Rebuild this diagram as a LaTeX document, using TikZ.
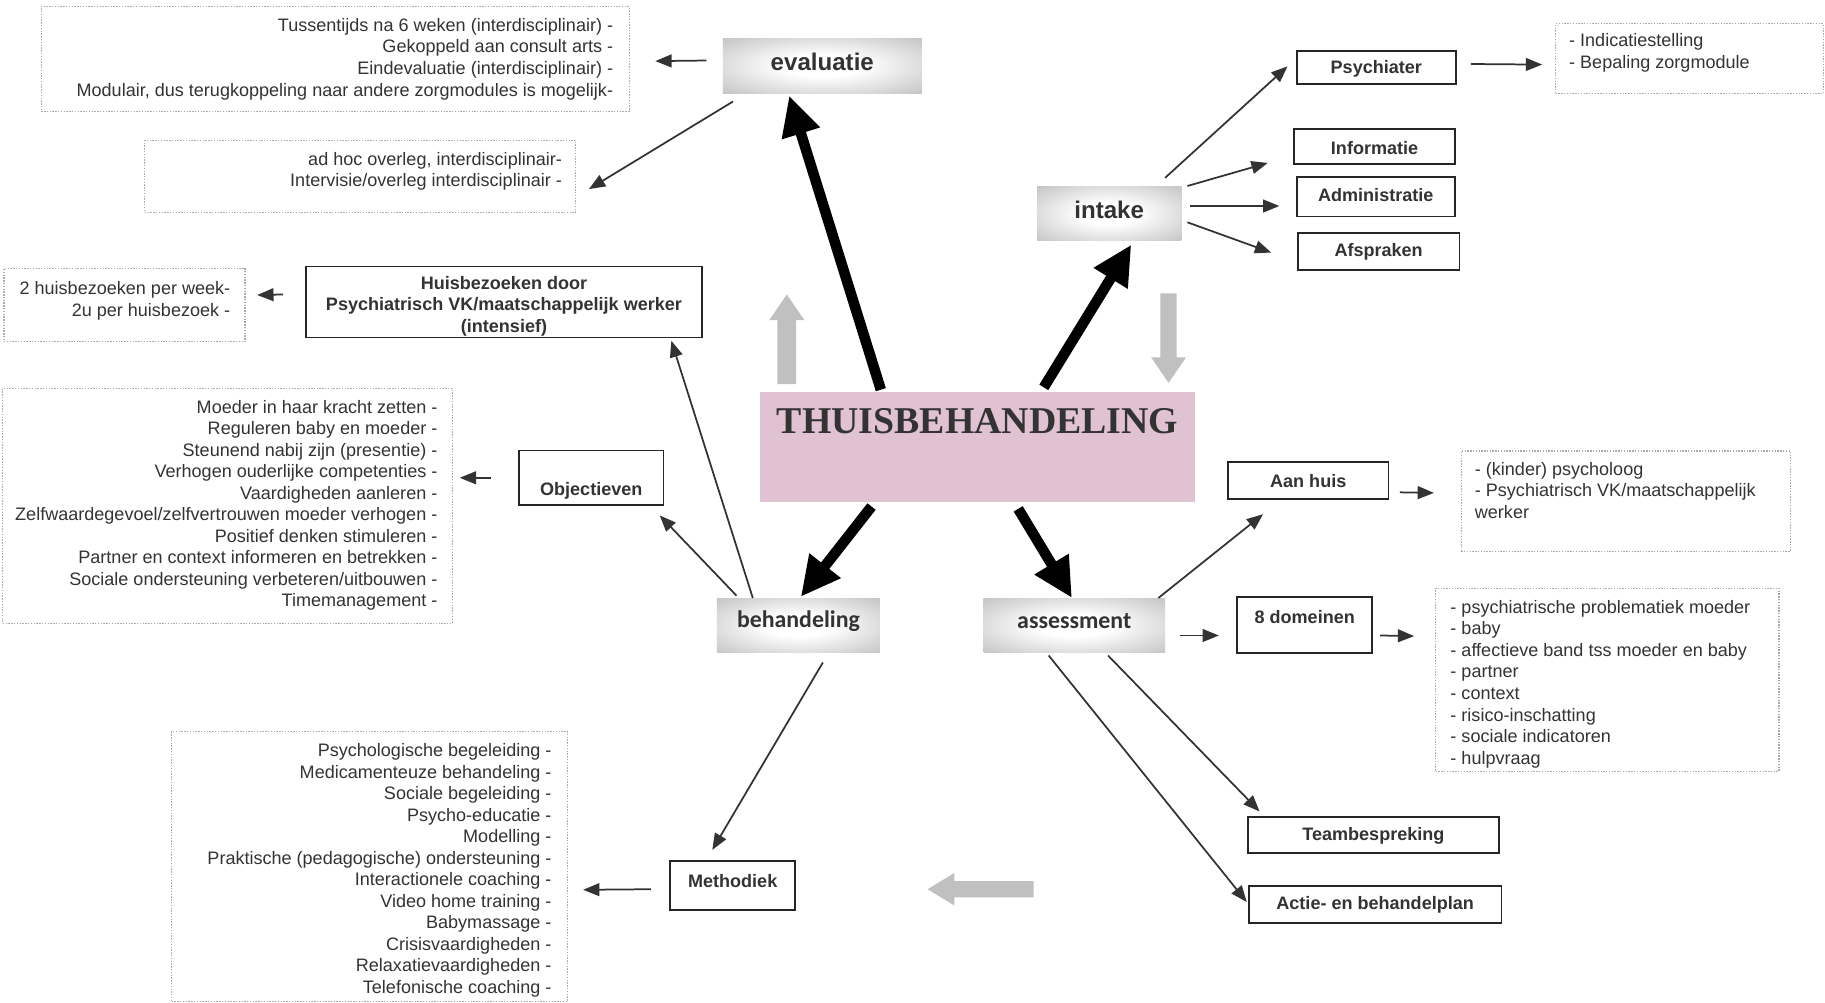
\documentclass[tikz,border=0pt]{standalone}
\usepackage{fontspec}
\setmainfont{Liberation Sans}
\newfontfamily\serifb{Liberation Serif}
\newfontfamily\carl{Carlito}
\usetikzlibrary{arrows.meta}
\definecolor{txt}{HTML}{333333}
\definecolor{pinkbox}{HTML}{E1C2D2}
\definecolor{glowgray}{HTML}{BFBFBF}
\definecolor{lightarrow}{HTML}{C0C0C0}
\definecolor{dotgray}{HTML}{AAAAAA}
\pgfdeclareradialshading{glow}{\pgfpoint{0bp}{0bp}}{color(0bp)=(white); color(10bp)=(white); color(38bp)=(glowgray); color(75bp)=(glowgray)}
\tikzset{
  listtxt/.style={font=\fontsize{15.5}{18.5}\selectfont, text=txt, inner sep=0pt},
  dotbox/.style={draw=dotgray, dash pattern=on 1.2pt off 1.2pt, line width=1pt, inner sep=0pt, anchor=north west},
  solidbox/.style={draw=black!85, line width=1.6pt, inner sep=0pt},
  boldlbl/.style={font=\bfseries\fontsize{15.5}{18.5}\selectfont, text=txt, inner sep=0pt, align=center},
  glowbox/.style={shade, shading=glow, inner sep=0pt},
  glowlbl/.style={font=\bfseries\fontsize{20.7}{24}\selectfont, text=txt, inner sep=0pt},
  carllbl/.style={font=\carl\bfseries\fontsize{20.5}{24}\selectfont, text=txt, inner sep=0pt},
  conn/.style={draw=txt, line width=1.5pt, -{Triangle[length=14pt,width=11pt]}},
  bigarrow/.style={draw=black, line width=9pt, -{Triangle[length=34pt,width=32pt]}}
}
\begin{document}
\begin{tikzpicture}[x=1pt,y=-1pt]
\useasboundingbox[fill=white] (0,0) rectangle (1568,861);

% ---------- central node ----------
\node[fill=pinkbox, inner sep=0pt, minimum width=374, minimum height=94] (thuis) at (840,384) {};
\node[font=\serifb\bfseries\fontsize{32.5}{36}\selectfont, text=txt, inner sep=0pt] (thuislbl) at (840,362) {THUISBEHANDELING};

% ---------- glow boxes ----------
\node[glowbox, minimum width=171, minimum height=47] (eval) at (706.5,56.5) {};
\node[glowlbl] (evallbl) at (706.5,53) {evaluatie};
\node[glowbox, minimum width=124, minimum height=47] (intake) at (953,183.5) {};
\node[glowlbl] (intakelbl) at (953,180) {intake};
\node[glowbox, minimum width=140, minimum height=47] (behand) at (686,537.5) {};
\node[carllbl] (behandlbl) at (686,534) {behandeling};
\node[glowbox, minimum width=156, minimum height=47] (assess) at (923,537.5) {};
\node[carllbl] (assesslbl) at (923,534) {assessment};

% ---------- solid boxes ----------
\node[solidbox, minimum width=137, minimum height=28] (psy) at (1182.5,58) {};
\node[boldlbl] (psylbl) at (1182.5,59) {Psychiater};
\node[solidbox, minimum width=138, minimum height=30] (info) at (1181,126) {};
\node[boldlbl] (infolbl) at (1181,127) {Informatie};
\node[solidbox, minimum width=136, minimum height=34] (admin) at (1182,169) {};
\node[boldlbl] (adminlbl) at (1182,168) {Administratie};
\node[solidbox, minimum width=139, minimum height=32] (afspr) at (1184.5,216) {};
\node[boldlbl] (afsprlbl) at (1184.5,216) {Afspraken};
\node[solidbox, minimum width=340, minimum height=61] (huis) at (433,259.5) {};
\node[boldlbl] (huislbl) at (433,263) {Huisbezoeken door\\Psychiatrisch VK/maatschappelijk werker\\(intensief)};
\node[solidbox, minimum width=124, minimum height=47] (obj) at (508,410.5) {};
\node[boldlbl] (objlbl) at (508,422) {Objectieven};
\node[solidbox, minimum width=138, minimum height=32] (aanhuis) at (1124,413) {};
\node[boldlbl] (aanhuislbl) at (1124,413) {Aan huis};
\node[solidbox, minimum width=116, minimum height=48] (dom8) at (1121,537) {};
\node[boldlbl] (dom8lbl) at (1121,530) {8 domeinen};
\node[solidbox, minimum width=216, minimum height=31] (team) at (1180,717.5) {};
\node[boldlbl] (teamlbl) at (1180,718) {Teambespreking};
\node[solidbox, minimum width=217, minimum height=32] (actie) at (1181.5,777) {};
\node[boldlbl] (actielbl) at (1181.5,777) {Actie- en behandelplan};
\node[solidbox, minimum width=107, minimum height=42] (meth) at (629.5,761) {};
\node[boldlbl] (methlbl) at (629.5,757) {Methodiek};

% ---------- dotted boxes ----------
\node[dotbox, minimum width=505, minimum height=90] (evl1) at (35,5) {};
\node[dotbox, minimum width=370, minimum height=62] (evl2) at (124,120) {};
\node[dotbox, minimum width=230, minimum height=60] (psyl) at (1336,20) {};
\node[dotbox, minimum width=207, minimum height=63] (huisl) at (3,230) {};
\node[dotbox, minimum width=386, minimum height=202] (objl) at (2,333) {};
\node[dotbox, minimum width=283, minimum height=86] (aanl) at (1255,387) {};
\node[dotbox, minimum width=295, minimum height=157] (doml) at (1233,505) {};
\node[dotbox, minimum width=340, minimum height=232] (methl) at (147,628) {};

% ---------- list texts (anchored at the baseline of the last line) ----------
\node[listtxt, align=right, anchor=base east] (evl1t) at (527,82.5) {Tussentijds na 6 weken (interdisciplinair) -\\Gekoppeld aan consult arts -\\Eindevaluatie (interdisciplinair) -\\Modulair, dus terugkoppeling naar andere zorgmodules is mogelijk-};
\node[listtxt, align=right, anchor=base east] (evl2t) at (483,160.5) {ad hoc overleg, interdisciplinair-\\Intervisie/overleg interdisciplinair -};
\node[listtxt, align=left, anchor=base west] (psylt) at (1348,58.5) {- Indicatiestelling\\- Bepaling zorgmodule};
\node[listtxt, align=right, anchor=base east] (huislt) at (198,271.5) {2 huisbezoeken per week-\\2u per huisbezoek -};
\node[listtxt, align=right, anchor=base east] (objlt) at (376,521.5) {Moeder in haar kracht zetten -\\Reguleren baby en moeder -\\Steunend nabij zijn (presentie) -\\Verhogen ouderlijke competenties -\\Vaardigheden aanleren -\\Zelfwaardegevoel/zelfvertrouwen moeder verhogen -\\Positief denken stimuleren -\\Partner en context informeren en betrekken -\\Sociale ondersteuning verbeteren/uitbouwen -\\Timemanagement -};
\node[listtxt, align=left, anchor=base west] (aanlt) at (1267,445.5) {- (kinder) psycholoog\\- Psychiatrisch VK/maatschappelijk\\werker};
\node[listtxt, align=left, anchor=base west] (domlt) at (1246,656.5) {- psychiatrische problematiek moeder\\- baby\\- affectieve band tss moeder en baby\\- partner\\- context\\- risico-inschatting\\- sociale indicatoren\\- hulpvraag};
\node[listtxt, align=right, anchor=base east] (methlt) at (474,853.5) {Psychologische begeleiding -\\Medicamenteuze behandeling -\\Sociale begeleiding -\\Psycho-educatie -\\Modelling -\\Praktische (pedagogische) ondersteuning -\\Interactionele coaching -\\Video home training -\\Babymassage -\\Crisisvaardigheden -\\Relaxatievaardigheden -\\Telefonische coaching -};

% ---------- big black arrows ----------
\draw[bigarrow] ([shift={(104,-2)}]thuis.north west) -- ([shift={(-28.5,2)}]eval.south);
\draw[bigarrow] ([shift={(244,-4)}]thuis.north west) -- ([shift={(19,3)}]intake.south);
\draw[bigarrow] ([shift={(96,4)}]thuis.south west) -- ([shift={(2,-1)}]behand.north);
\draw[bigarrow] ([shift={(222,6)}]thuis.south west) -- ([shift={(-2,0)}]assess.north);

% ---------- thin connectors ----------
\draw[conn] ([shift={(-14,-4.5)}]eval.west) -- ([shift={(22,2)}]evl1.east);
\draw[conn] ([shift={(9,7)}]eval.south west) -- ([shift={(11,11)}]evl2.east);
\draw[conn] ([shift={(48,-7)}]intake.north) -- ([shift={(-7,-1)}]psy.west);
\draw[conn] ([shift={(5,0)}]intake.north east) -- ([shift={(-22,14)}]info.west);
\draw[conn] ([shift={(7,-6.5)}]intake.east) -- ([shift={(-14,8)}]admin.west);
\draw[conn] ([shift={(5,7.5)}]intake.east) -- ([shift={(-22,1)}]afspr.west);
\draw[conn] ([shift={(12,-3)}]psy.east) -- ([shift={(-11,5)}]psyl.west);
\draw[conn] ([shift={(-6,0)}]assess.north east) -- ([shift={(31,12)}]aanhuis.south west);
\draw[conn] ([shift={(9,10)}]aanhuis.east) -- ([shift={(-23,-7)}]aanl.west);
\draw[conn] ([shift={(13,8.5)}]assess.east) -- ([shift={(-15,9)}]dom8.west);
\draw[conn] ([shift={(6,9)}]dom8.east) -- ([shift={(-18,-37.5)}]doml.west);
\draw[conn] ([shift={(29,2)}]assess.south) -- ([shift={(11,-4)}]team.north west);
\draw[conn] ([shift={(-22,2)}]assess.south) -- ([shift={(-1,-2)}]actie.west);
\draw[conn] ([shift={(31,0)}]behand.north west) -- ([shift={(-27,2)}]huis.south east);
\draw[conn] ([shift={(-19,-6.5)}]huis.west) -- ([shift={(10,-8.5)}]huisl.east);
\draw[conn] ([shift={(17,-2)}]behand.north west) -- ([shift={(-4,8)}]obj.south east);
\draw[conn] ([shift={(-23,0)}]obj.west) -- ([shift={(6,-24)}]objl.east);
\draw[conn] ([shift={(21,8)}]behand.south) -- ([shift={(-17.5,-9)}]meth.north);
\draw[conn] ([shift={(-16,3)}]meth.west) -- ([shift={(13,20)}]methl.east);

% ---------- light grey block arrows ----------
\fill[lightarrow] (668,330) -- (668,275) -- (661,275) -- (676,253) -- (691,275) -- (684,275) -- (684,330) -- cycle;
\fill[lightarrow] (997,252) -- (997,307) -- (989,307) -- (1004,329) -- (1019,307) -- (1011,307) -- (1011,252) -- cycle;
\fill[lightarrow] (888,757) -- (820,757) -- (820,750) -- (797,764) -- (820,778) -- (820,771) -- (888,771) -- cycle;
\end{tikzpicture}
\end{document}
